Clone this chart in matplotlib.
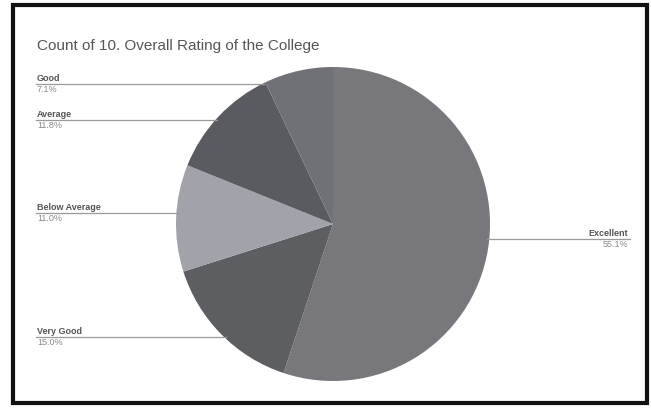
import matplotlib.pyplot as plt
import numpy as np
from matplotlib.patches import Rectangle

# Slices in clockwise order starting from 12 o'clock
categories = ['Excellent', 'Very Good', 'Below Average', 'Average', 'Good']
shares = [55.1, 15.0, 11.0, 11.8, 7.1]
colors = ['#77777c', '#5d5e62', '#a2a2aa', '#5a5b60', '#707176']

W, H = 651, 411
fig = plt.figure(figsize=(W / 100, H / 100), dpi=100)
fig.patch.set_facecolor('white')

# pie box in pixels: centre (333, 224), radius 157
cx, cy, r = 333, 224, 157
ax = fig.add_axes([(cx - r) / W, (H - cy - r) / H, 2 * r / W, 2 * r / H])
ax.pie(shares, colors=colors, startangle=90, counterclock=False,
       wedgeprops=dict(linewidth=0))
ax.set_xlim(-1, 1)
ax.set_ylim(-1, 1)
ax.set_aspect('auto')
ax.axis('off')

# label placement (pixel y of the leader line) and side
label_y = {'Good': 84, 'Average': 120, 'Below Average': 213,
           'Very Good': 337, 'Excellent': 239}

def px(x, y):
    return x / W, 1 - y / H

for name, val in zip(categories, shares):
    ly = label_y[name]
    yd = (cy - ly) / r
    xd = np.sqrt(max(0.0, 1 - yd ** 2)) * r
    if name == 'Excellent':
        x0, x1 = cx + xd - 2, 630
        ha, tx = 'right', 628
    else:
        x0, x1 = 36, cx - xd + 2
        ha, tx = 'left', 37
    fig.add_artist(plt.Line2D([x0 / W, x1 / W], [1 - ly / H, 1 - ly / H],
                              color='#9a9a9a', lw=0.9))
    fig.text(*px(tx, ly - 1), name, ha=ha, va='bottom', fontsize=6.5,
             family='Liberation Sans', fontweight='bold', color='#555555')
    fig.text(*px(tx, ly + 1), f'{val:.1f}%', ha=ha, va='top', fontsize=6.5,
             family='Liberation Sans', color='#888888')

fig.text(*px(37, 46), 'Count of 10. Overall Rating of the College',
         ha='left', va='center', fontsize=11, family='Liberation Sans',
         color='#555555')

# dark frame around the chart
fig.add_artist(Rectangle((13 / W, 1 - 403 / H), 634 / W, 398 / H,
                         transform=fig.transFigure, fill=False,
                         edgecolor='#111111', lw=3))

fig.savefig('out.png', dpi=100)
